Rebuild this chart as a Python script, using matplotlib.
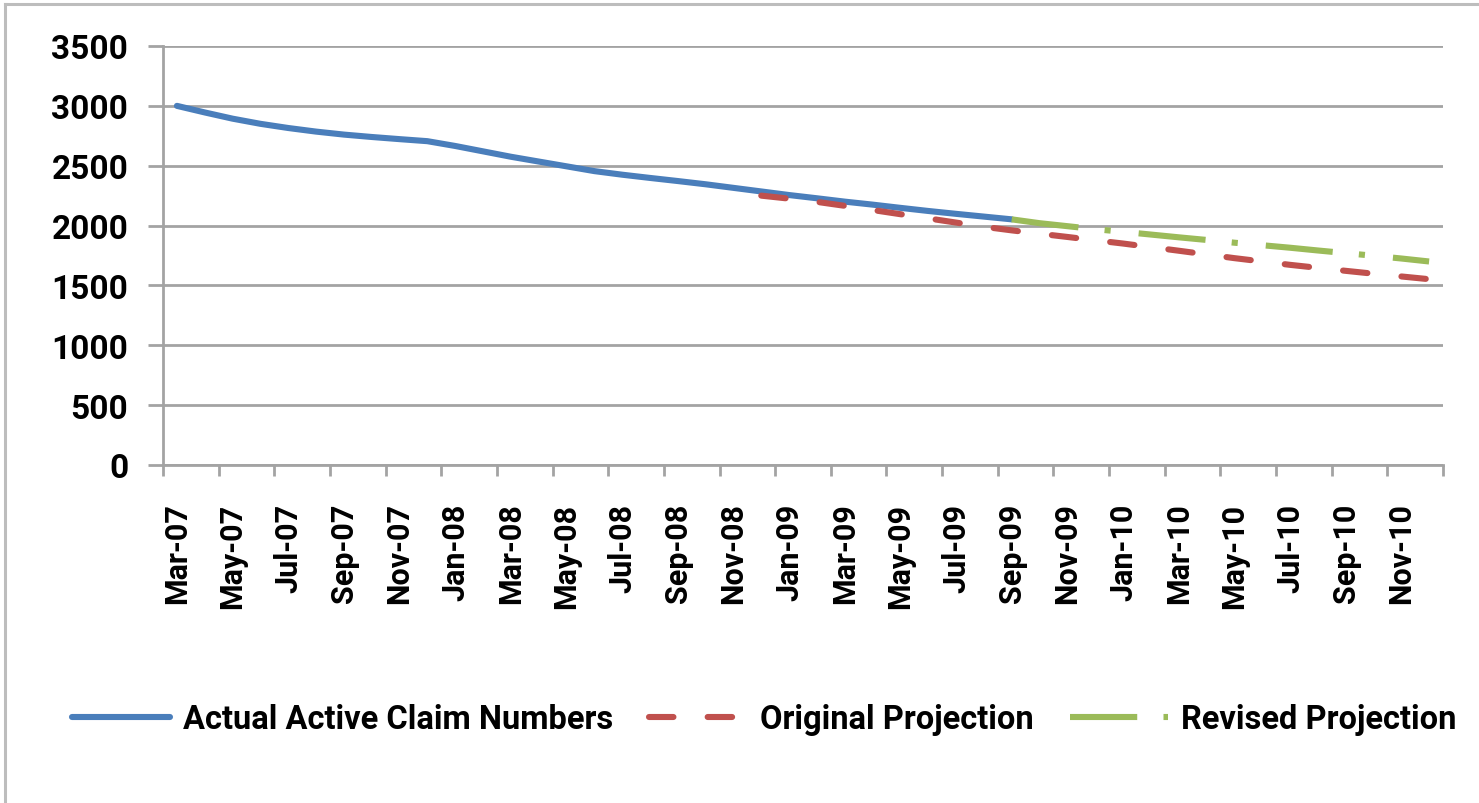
import numpy as np
import pandas as pd
import matplotlib
matplotlib.use("Agg")
import matplotlib.pyplot as plt
from matplotlib.lines import Line2D

# monthly categories, Mar-07 .. Dec-10
months = pd.date_range("2007-03-01", "2010-12-01", freq="MS")
month_labels = [d.strftime("%b-%y") for d in months]

# Actual Active Claim Numbers, Mar-07 .. Sep-09
actual = [3000, 2945, 2893, 2850, 2815, 2785, 2760, 2740, 2722, 2705,
          2665, 2620, 2575, 2535, 2495, 2455, 2425, 2398, 2372, 2345,
          2315, 2285, 2255, 2228, 2200, 2175, 2148, 2122, 2098, 2075,
          2052]
actual_start = "2007-03-01"

# Original Projection, Dec-08 .. Dec-10
original = [2250, 2225, 2198, 2165, 2130, 2095, 2060, 2025, 1990, 1960,
            1932, 1905, 1877, 1850, 1820, 1790, 1759, 1728, 1700, 1672,
            1647, 1622, 1598, 1575, 1552]
original_start = "2008-12-01"

# Revised Projection, Sep-09 .. Dec-10
revised = [2052, 2020, 1995, 1970, 1948, 1925, 1902, 1880, 1857, 1836,
           1815, 1792, 1770, 1748, 1725, 1700]
revised_start = "2009-09-01"

y_ticks = [0, 500, 1000, 1500, 2000, 2500, 3000, 3500]


def xs(start, vals):
    i0 = months.get_loc(pd.Timestamp(start))
    return np.arange(i0, i0 + len(vals))


plt.rcParams["font.family"] = ["Roboto", "DejaVu Sans"]
plt.rcParams["font.weight"] = "bold"

W, H = 1479, 804
fig = plt.figure(figsize=(W / 100, H / 100), dpi=100)
ax = fig.add_axes([163 / W, 1 - 466 / H, (1443 - 163) / W, (466 - 47) / H])

grid_c = "#a3a3a3"
lw = 4.4

ax.plot(xs(actual_start, actual), actual, color="#4a7ebb", lw=lw,
        solid_capstyle="round", zorder=3, label="Actual Active Claim Numbers")
ax.plot(xs(original_start, original), original, color="#c0504d", lw=lw,
        dashes=(4.0, 5.6), dash_capstyle="round", zorder=4,
        label="Original Projection")
ax.plot(xs(revised_start, revised), revised, color="#9bbb59", lw=lw,
        dashes=(11.0, 4.3, 1.0, 4.6), dash_capstyle="butt", zorder=5,
        label="Revised Projection")

ax.set_xlim(-0.5, len(months) - 0.5)
ax.set_ylim(0, 3500)
ax.set_yticks(y_ticks)
ax.set_yticklabels([str(v) for v in y_ticks])
ax.yaxis.grid(True, color=grid_c, lw=2.0)
ax.set_axisbelow(True)

# tick marks between every two months, labels on every second month
ax.set_xticks(np.arange(-0.5, len(months), 2))
ax.set_xticklabels([])
ax.set_xticks(np.arange(0, len(months), 2), minor=True)
ax.set_xticklabels(month_labels[::2], minor=True, rotation=90)
ax.tick_params(axis="x", which="major", length=8, width=2, color=grid_c)
ax.tick_params(axis="x", which="minor", length=0, pad=27, labelsize=22)
ax.tick_params(axis="y", length=11, width=2, color=grid_c, pad=14,
               labelsize=24)

for s in ["top", "right"]:
    ax.spines[s].set_visible(False)
for s in ["left", "bottom"]:
    ax.spines[s].set_color(grid_c)
    ax.spines[s].set_linewidth(2.0)

handles, labels = ax.get_legend_handles_labels()
fig.legend(handles, labels, loc="center", bbox_to_anchor=(764 / W, 1 - 720 / H),
           ncol=3, frameon=False, fontsize=23.5, handlelength=3.0,
           handletextpad=0.4, columnspacing=1.1)

# outer chart border (cropped on right and bottom)
fig.add_artist(Line2D([5 / W, 1], [1 - 5 / H, 1 - 5 / H], color="#bdbdbd",
                      lw=2.2, transform=fig.transFigure))
fig.add_artist(Line2D([5 / W, 5 / W], [0, 1 - 5 / H], color="#bdbdbd",
                      lw=2.2, transform=fig.transFigure))

fig.savefig("out.png", dpi=100)
